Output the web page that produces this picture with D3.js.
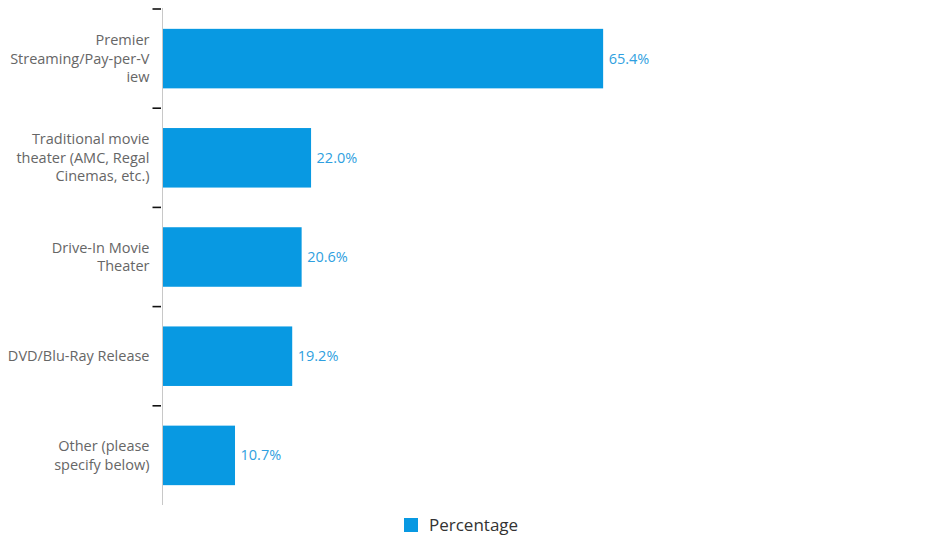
<!DOCTYPE html>
<html>
<head>
<meta charset="utf-8">
<script src="https://cdn.jsdelivr.net/npm/d3@7"></script>
<style>
  body { margin: 0; background: #fff; }
  text { font-family: "Open Sans", sans-serif; }
</style>
</head>
<body>
<div id="canvas"></div>
<script>
"use strict"

// chart data
let categories = [
    "Premier Streaming/Pay-per-View",
    "Traditional movie theater (AMC, Regal Cinemas, etc.)",
    "Drive-In Movie Theater",
    "DVD/Blu-Ray Release",
    "Other (please specify below)"
]
let categoryLines = [
    ["Premier", "Streaming/Pay-per-V", "iew"],
    ["Traditional movie", "theater (AMC, Regal", "Cinemas, etc.)"],
    ["Drive-In Movie", "Theater"],
    ["DVD/Blu-Ray Release"],
    ["Other (please", "specify below)"]
]
let percentages = [65.4, 22.0, 20.6, 19.2, 10.7]
let seriesName = "Percentage"

let width = 928
let height = 549

let drawing = d3.select("#canvas")
    .append("svg")
    .attr("width", width)
    .attr("height", height)

let plotLeft = 162.5
let plotTop = 9
let plotBottom = 505

let x = d3.scaleLinear()
    .domain([0, 100])
    .range([plotLeft, plotLeft + 673])

let y = d3.scaleBand()
    .domain(categories)
    .range([plotTop, plotBottom])
    .paddingInner(0.4)
    .paddingOuter(0.2)

let step = y.step()

// axis line
drawing.append("line")
    .attr("x1", plotLeft)
    .attr("x2", plotLeft)
    .attr("y1", plotTop - 1)
    .attr("y2", plotBottom)
    .attr("stroke", "#c8c8c8")
    .attr("stroke-width", 1)

// ticks at band boundaries (no tick at the bottom)
drawing.selectAll(".tick")
    .data(categories)
    .enter()
    .append("line")
    .attr("x1", plotLeft - 10)
    .attr("x2", plotLeft - 1.5)
    .attr("y1", d => y(d) - step * 0.2)
    .attr("y2", d => y(d) - step * 0.2)
    .attr("stroke", "#111")
    .attr("stroke-width", 1.6)

// bars
drawing.selectAll(".bar")
    .data(categories)
    .enter()
    .append("rect")
    .attr("x", x(0) + 0.5)
    .attr("y", d => y(d))
    .attr("width", (d, i) => x(percentages[i]) - x(0))
    .attr("height", y.bandwidth())
    .attr("fill", "#0899e2")

// value labels
drawing.selectAll(".value")
    .data(categories)
    .enter()
    .append("text")
    .attr("x", (d, i) => x(percentages[i]) + 6)
    .attr("y", d => y(d) + y.bandwidth() / 2)
    .attr("dy", "0.35em")
    .attr("font-size", 14.5)
    .attr("fill", "#2f9fe0")
    .text((d, i) => percentages[i].toFixed(1) + "%")

// category labels
let lineHeight = 18.5
categories.forEach((c, i) => {
    let lines = categoryLines[i]
    let mid = y(c) + y.bandwidth() / 2
    let label = drawing.append("text")
        .attr("text-anchor", "end")
        .attr("font-size", 14.5)
        .attr("fill", "#666")
    lines.forEach((t, j) => {
        label.append("tspan")
            .attr("x", plotLeft - 13)
            .attr("y", mid + (j - (lines.length - 1) / 2) * lineHeight)
            .attr("dy", "0.35em")
            .text(t)
    })
})

// legend
drawing.append("rect")
    .attr("x", 404)
    .attr("y", 518)
    .attr("width", 14)
    .attr("height", 14)
    .attr("fill", "#0899e2")

drawing.append("text")
    .attr("x", 429)
    .attr("y", 525)
    .attr("dy", "0.35em")
    .attr("font-size", 17)
    .attr("fill", "#333")
    .text(seriesName)
</script>
</body>
</html>
